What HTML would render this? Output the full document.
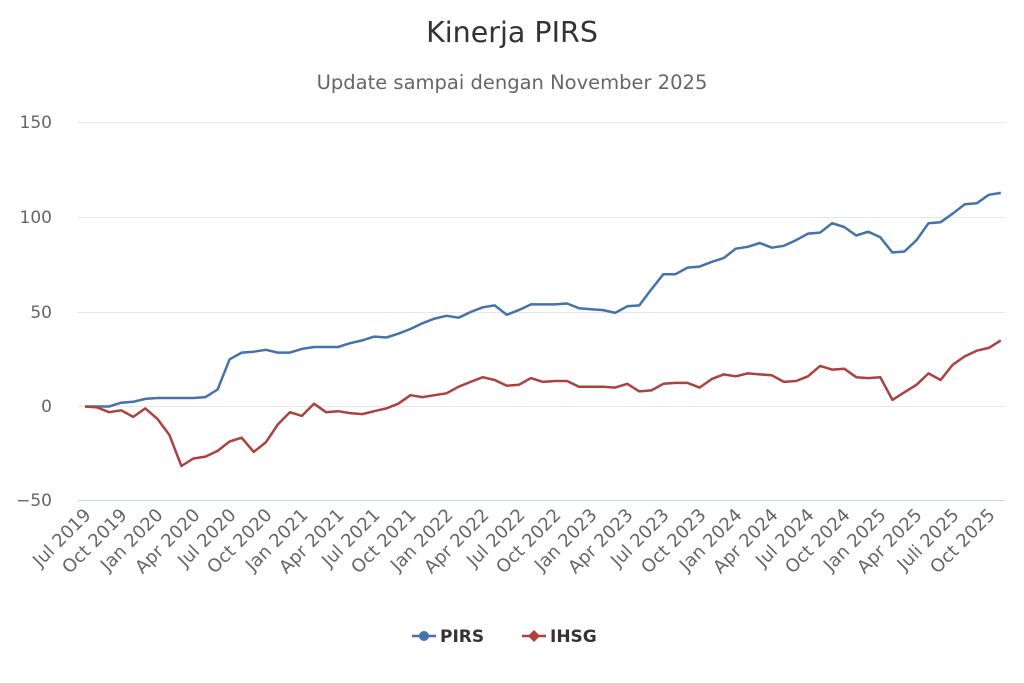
<!DOCTYPE html>
<html><head><meta charset="utf-8"><style>
html,body{margin:0;padding:0;background:#fff}
svg{display:block;font-family:"DejaVu Sans","Liberation Sans",sans-serif}
</style></head><body>
<svg id="c" width="1024" height="683" viewBox="0 0 1024 683">
<text x="512" y="42" text-anchor="middle" font-size="28.5" fill="#333">Kinerja PIRS</text>
<text x="512" y="89" text-anchor="middle" font-size="19.5" fill="#666">Update sampai dengan November 2025</text>
<g stroke="#e6e6e6" stroke-width="1">
<line x1="78" x2="1005" y1="122.5" y2="122.5"/>
<line x1="78" x2="1005" y1="217.5" y2="217.5"/>
<line x1="78" x2="1005" y1="312.5" y2="312.5"/>
<line x1="78" x2="1005" y1="406.5" y2="406.5"/>
</g>
<line x1="78" x2="1005" y1="500.5" y2="500.5" stroke="#ccd6eb"/>
<g font-size="17" fill="#666" text-anchor="end">
<text x="52" y="128">150</text>
<text x="52" y="223">100</text>
<text x="52" y="318">50</text>
<text x="52" y="412">0</text>
<text x="52" y="506">−50</text>
</g>
<g id="xl" font-size="18" fill="#666" text-anchor="end">
<text transform="translate(92,516) rotate(-45)">Jul 2019</text>
<text transform="translate(128,516) rotate(-45)">Oct 2019</text>
<text transform="translate(164,516) rotate(-45)">Jan 2020</text>
<text transform="translate(201,516) rotate(-45)">Apr 2020</text>
<text transform="translate(237,516) rotate(-45)">Jul 2020</text>
<text transform="translate(273,516) rotate(-45)">Oct 2020</text>
<text transform="translate(309,516) rotate(-45)">Jan 2021</text>
<text transform="translate(345,516) rotate(-45)">Apr 2021</text>
<text transform="translate(381,516) rotate(-45)">Jul 2021</text>
<text transform="translate(417,516) rotate(-45)">Oct 2021</text>
<text transform="translate(454,516) rotate(-45)">Jan 2022</text>
<text transform="translate(490,516) rotate(-45)">Apr 2022</text>
<text transform="translate(526,516) rotate(-45)">Jul 2022</text>
<text transform="translate(562,516) rotate(-45)">Oct 2022</text>
<text transform="translate(598,516) rotate(-45)">Jan 2023</text>
<text transform="translate(634,516) rotate(-45)">Apr 2023</text>
<text transform="translate(670,516) rotate(-45)">Jul 2023</text>
<text transform="translate(707,516) rotate(-45)">Oct 2023</text>
<text transform="translate(743,516) rotate(-45)">Jan 2024</text>
<text transform="translate(779,516) rotate(-45)">Apr 2024</text>
<text transform="translate(815,516) rotate(-45)">Jul 2024</text>
<text transform="translate(851,516) rotate(-45)">Oct 2024</text>
<text transform="translate(887,516) rotate(-45)">Jan 2025</text>
<text transform="translate(923,516) rotate(-45)">Apr 2025</text>
<text transform="translate(960,516) rotate(-45)">Juli 2025</text>
<text transform="translate(996,516) rotate(-45)">Oct 2025</text>
</g>
<polyline id="pb" fill="none" stroke="#4472aa" stroke-width="2.5" stroke-linejoin="round"/>
<polyline id="pr" fill="none" stroke="#ab4240" stroke-width="2.5" stroke-linejoin="round"/>
<line x1="412" x2="436" y1="636" y2="636" stroke="#4472aa" stroke-width="2.5"/>
<circle cx="424" cy="636" r="5" fill="#4472aa"/>
<text x="440" y="642" font-size="17" font-weight="bold" fill="#333">PIRS</text>
<line x1="522" x2="546" y1="636" y2="636" stroke="#ab4240" stroke-width="2.5"/>
<path d="M534 630 L540 636 L534 642 L528 636 Z" fill="#ab4240"/>
<text x="550" y="642" font-size="17" font-weight="bold" fill="#333">IHSG</text>
</svg>
<script>
var A=[0,0,0,2,2.5,4,4.5,4.5,4.5,4.5,5,9,25,28.5,29,30,28.5,28.5,30.5,31.5,31.5,31.5,33.5,35,37,36.5,38.5,41,44,46.5,48,47,50,52.5,53.5,48.5,51,54,54,54,54.5,52,51.5,51,49.5,53,53.5,62,70,70,73.5,74,76.5,78.5,83.5,84.5,86.5,84,85,88,91.5,92,97,95,90.5,92.5,89.5,81.5,82,88,97,97.5,102,107,107.5,112,113];
var B=[0,-0.5,-3,-2,-5.5,-1,-6.5,-15,-31.5,-27.5,-26.5,-23.5,-18.5,-16.5,-24,-19,-9.5,-3,-5,1.5,-3,-2.5,-3.5,-4,-2.5,-1,1.5,6,5,6,7,10.5,13,15.5,14,11,11.5,15,13,13.5,13.5,10.5,10.5,10.5,10,12,8,8.5,12,12.5,12.5,10,14.5,17,16,17.5,17,16.5,13,13.5,16,21.5,19.5,20,15.5,15,15.5,3.5,7.5,11.5,17.5,14,22,26.5,29.5,31,35];
function p(d){return d.map(function(v,i){return (85+12.05*i).toFixed(1)+","+(406.5-1.89*v).toFixed(1)}).join(" ")}
document.getElementById("pb").setAttribute("points",p(A));
document.getElementById("pr").setAttribute("points",p(B));
</script>
</body></html>
